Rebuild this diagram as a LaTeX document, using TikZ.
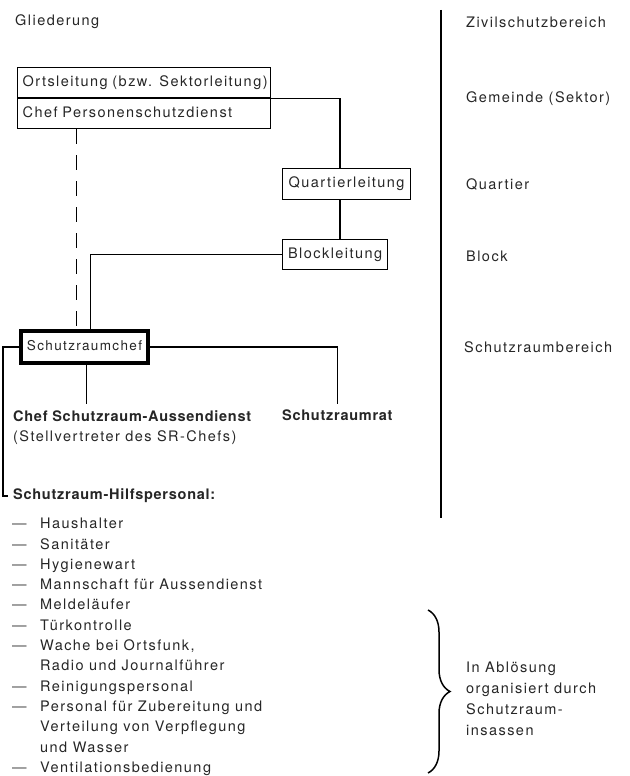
\documentclass[tikz,border=0pt]{standalone}
\usepackage{fontspec}
\setmainfont{TeX Gyre Heros}[LetterSpace=10,BoldFeatures={LetterSpace=5}]
\usetikzlibrary{positioning,decorations.pathreplacing}

\newcommand\dashitem{\makebox[28pt][l]{\textcolor{black!70}{—}}}
\newcommand\contitem{\hspace*{28pt}}

\begin{document}
\begin{tikzpicture}[x=1pt,y=-1pt,line join=miter,
      every node/.style={font=\fontsize{14.5}{20.3}\selectfont,text=black!85},
      box/.style={draw,line width=1.2pt,minimum height=30pt,inner xsep=5pt,
        text height=10.5pt,text depth=3.5pt},
      conn/.style={draw,line width=1.2pt},
      dashline/.style={draw,line width=1.2pt,dash pattern=on 15pt off 11pt},
      level/.style={anchor=west,inner sep=0pt},
      bold/.style={font=\fontsize{14.5}{20.3}\selectfont\bfseries}]
    \useasboundingbox (0,0) rectangle (629,776);
    \coordinate (qx) at (340,0);
    \coordinate (lx) at (3,0);
    \coordinate (vtop) at (441,10);
    \coordinate (vbot) at (441,518);
    \coordinate (btop) at (428,610);
    \coordinate (bbot) at (428,773);

    \node[level] (glied) at (15,22) {Gliederung};
    \node[level] (zivil) at (466,22) {Zivilschutzbereich};
    \node[level] (gem) at (466,99) {Gemeinde (Sektor)};
    \node[level] (quartier) at (466,184) {Quartier};
    \node[level] (blk) at (466,256) {Block};
    \node[level] (srb) at (464,347) {Schutzraumbereich};

    \node[box,text width=243pt,align=left,anchor=north west] (ortsl) at (17,67)
      {Ortsleitung (bzw. Sektorleitung)};
    \node[box,text width=243pt,align=left] (chefps) [below=0pt of ortsl]
      {Chef Personenschutzdienst};
    \node[box,minimum width=128pt,minimum height=31pt,anchor=north west] (quart)
      at (282,168) {Quartierleitung};
    \node[box,minimum width=105pt,anchor=north west] (block) at (282,239)
      {Blockleitung};
    \node[box,line width=4pt,minimum width=127pt,minimum height=32pt,inner xsep=0pt,
      font=\fontsize{13.5}{20}\selectfont,anchor=north west] (schef) at (19,329)
      {Schutzraumchef};

    \node[align=left,anchor=north west,inner xsep=0pt,inner ysep=6pt] (aussen)
      at (13,404) {{\bfseries Chef Schutzraum-Aussendienst}\\(Stellvertreter des SR-Chefs)};
    \node[bold,anchor=north west,inner xsep=0pt,inner ysep=6pt] (rat) at (282,404)
      {Schutzraumrat};
    \node[bold,anchor=west,inner xsep=5pt,inner ysep=0pt] (hilf) at (8,496)
      {Schutzraum-Hilfspersonal:};

    \node[align=left,anchor=north west,inner sep=0pt] (liste) at (12,518)
      {\dashitem Haushalter\\
       \dashitem Sanitäter\\
       \dashitem Hygienewart\\
       \dashitem Mannschaft für Aussendienst\\
       \dashitem Meldeläufer\\
       \dashitem Türkontrolle\\
       \dashitem Wache bei Ortsfunk,\\
       \contitem Radio und Journalführer\\
       \dashitem Reinigungspersonal\\
       \dashitem Personal für Zubereitung und\\
       \contitem Verteilung von Verpflegung\\
       \contitem und Wasser\\
       \dashitem Ventilationsbedienung};

    \node[align=left,anchor=west,inner sep=0pt,
      font=\fontsize{14.5}{21}\selectfont] (abl) at (466,699)
      {In Ablösung\\organisiert durch\\Schutzraum-\\insassen};

    \draw[conn] (vtop) -- (vbot);
    \draw[line width=1.5pt,decorate,decoration={brace,amplitude=22pt,aspect=0.5}]
      (btop) -- (bbot);

    \draw[conn] (ortsl.south east) -| (quart.north -| qx);
    \draw[conn] (quart.south -| qx) -- (block.north -| qx);
    \draw[conn] (block.west) -| ([xshift=6pt]schef.north);
    \draw[dashline] ([xshift=-67.5pt]chefps.south) -- ([xshift=-67.5pt]chefps.south |- schef.north);
    \draw[conn] (schef.east) -| (rat.north);
    \draw[conn] ([xshift=2pt]schef.south) -- ([xshift=2pt]schef.south |- aussen.north);
    \draw[conn] (schef.west) -| (lx |- hilf.west) -- (hilf.west);
  \end{tikzpicture}
\end{document}
